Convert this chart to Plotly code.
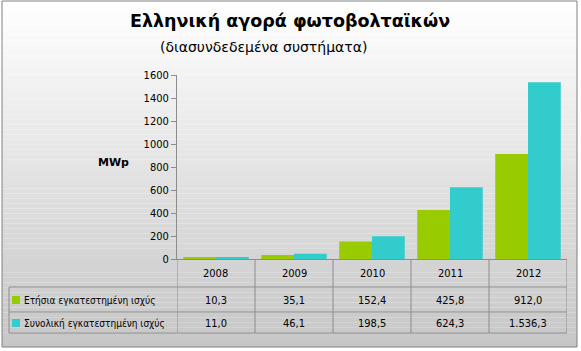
import plotly.graph_objects as go

# ---- data ----
years = ["2008", "2009", "2010", "2011", "2012"]
annual = [10.3, 35.1, 152.4, 425.8, 912.0]
cumulative = [11.0, 46.1, 198.5, 624.3, 1536.3]
series_names = ["Ετήσια εγκατεστημένη ισχύς", "Συνολική εγκατεστημένη ισχύς"]
series_colors = ["#99cc00", "#33cccc"]
y_ticks = [0, 200, 400, 600, 800, 1000, 1200, 1400, 1600]
title = "Ελληνική αγορά φωτοβολταϊκών"
subtitle = "(διασυνδεδεμένα συστήματα)"
y_title = "MWp"

W, H = 581, 351
FONT = "DejaVu Sans Condensed, DejaVu Sans, sans-serif"
GRID = "#8c8c8c"


def px_x(p):
    return p / W


def px_y(p):
    return 1 - p / H


def gr(v):
    s = f"{v:,.1f}"
    return s.replace(",", "#").replace(".", ",").replace("#", ".")


fig = go.Figure()
for name, vals, col in zip(series_names, [annual, cumulative], series_colors):
    fig.add_trace(go.Bar(x=years, y=vals, name=name, marker=dict(color=col, line=dict(width=0)),
                         hoverinfo="skip"))

shapes = []
# gradient background inside outer border
top, bot = 1, 347
n = 70
for i in range(n):
    y0 = top + (bot - top) * i / n
    y1 = top + (bot - top) * (i + 1) / n
    t = (i + 0.5) / n
    c = int(round(255 - 57 * t))
    shapes.append(dict(type="rect", xref="paper", yref="paper", layer="below",
                       x0=px_x(2), x1=px_x(577), y0=px_y(y1), y1=px_y(y0),
                       fillcolor=f"rgb({c},{c},{c})", line=dict(width=0)))
# outer border
shapes.append(dict(type="rect", xref="paper", yref="paper", layer="below",
                   x0=px_x(2), x1=px_x(577), y0=px_y(347), y1=px_y(1),
                   fillcolor="rgba(0,0,0,0)", line=dict(color="#808080", width=1)))

# table lines
row_lines = [287, 312, 333]
for yy in row_lines:
    shapes.append(dict(type="line", xref="paper", yref="paper", x0=px_x(9), x1=px_x(567),
                       y0=px_y(yy), y1=px_y(yy), line=dict(color=GRID, width=1)))
for i in range(len(years) + 1):
    shapes.append(dict(type="line", xref="x", yref="paper", x0=i - 0.5, x1=i - 0.5,
                       y0=px_y(259), y1=px_y(333), line=dict(color=GRID, width=1)))
shapes.append(dict(type="line", xref="paper", yref="paper", x0=px_x(9), x1=px_x(9),
                   y0=px_y(287), y1=px_y(333), line=dict(color=GRID, width=1)))

# legend keys in table
row_centers = [300, 323]
for yc, col in zip(row_centers, series_colors):
    shapes.append(dict(type="rect", xref="paper", yref="paper",
                       x0=px_x(12), x1=px_x(20), y0=px_y(yc + 4), y1=px_y(yc - 4),
                       fillcolor=col, line=dict(width=0)))

ann = []


def add_ann(text, x, y, xref="paper", xanchor="center", size=11, family=FONT):
    ann.append(dict(text=text, x=x, y=y, xref=xref, yref="paper", xanchor=xanchor,
                    yanchor="middle", showarrow=False,
                    font=dict(family=family, size=size, color="#000000")))


add_ann(f"<b>{title}</b>", px_x(290), px_y(21), size=17.5, family="DejaVu Sans")
add_ann(subtitle, px_x(263), px_y(47), size=14, family="DejaVu Sans")
add_ann(f"<b>{y_title}</b>", px_x(113), px_y(162), size=11, family="DejaVu Sans")
for i, yv in enumerate(years):
    add_ann(yv, i, px_y(273), xref="x")
for r, (name, vals) in enumerate(zip(series_names, [annual, cumulative])):
    yc = row_centers[r]
    add_ann(name, px_x(22), px_y(yc), xanchor="left", size=10)
    for i, v in enumerate(vals):
        add_ann(gr(v), i, px_y(yc), xref="x")

fig.update_layout(
    template="none",
    width=W, height=H, autosize=False,
    margin=dict(l=0, r=0, t=0, b=0, pad=0, autoexpand=False),
    paper_bgcolor="#ffffff", plot_bgcolor="rgba(0,0,0,0)",
    showlegend=False, barmode="group", bargap=0.16, bargroupgap=0,
    shapes=shapes, annotations=ann,
    xaxis=dict(domain=[px_x(177), px_x(567)], type="category", range=[-0.5, 4.5],
               automargin=False,
               showticklabels=False, showgrid=False, zeroline=False,
               showline=True, linecolor=GRID, linewidth=1, ticks=""),
    yaxis=dict(domain=[px_y(259), px_y(75)], range=[0, 1600], tickvals=y_ticks,
               automargin=False,
               showgrid=False, zeroline=False, showline=True, linecolor=GRID, linewidth=1,
               ticks="outside", ticklen=5, tickcolor=GRID, tickwidth=1,
               tickfont=dict(family=FONT, size=11, color="#000000")),
)

fig.write_html("out.html", config={"displayModeBar": False})
